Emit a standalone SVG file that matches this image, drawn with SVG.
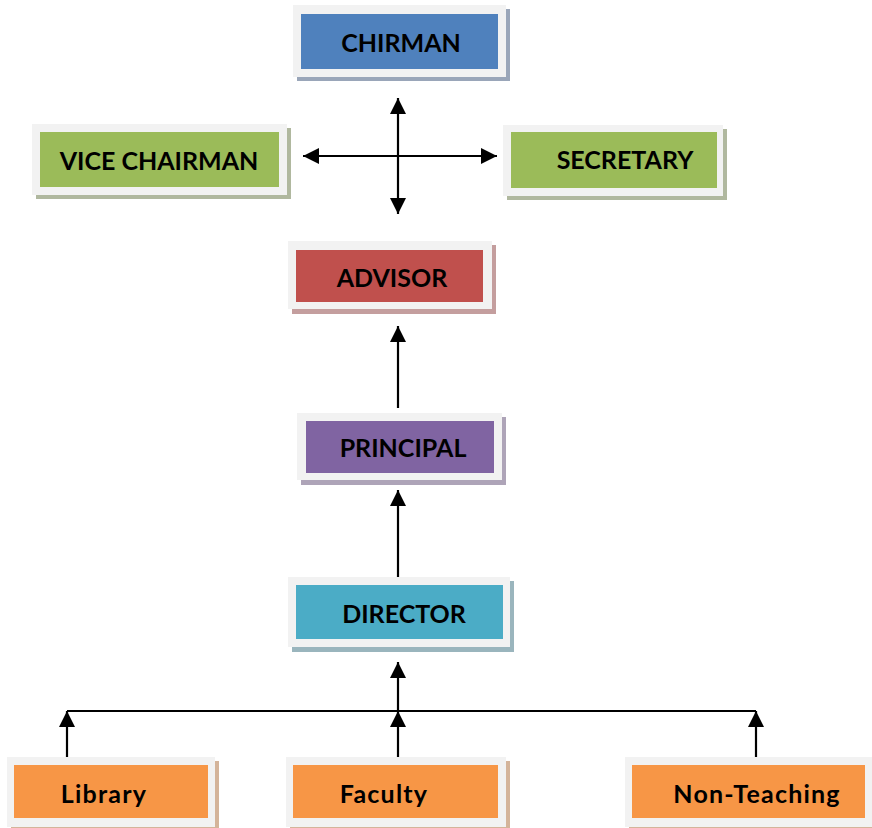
<svg xmlns="http://www.w3.org/2000/svg" width="872" height="828" viewBox="0 0 872 828">
<defs>
<marker id="ah" markerUnits="userSpaceOnUse" markerWidth="17" markerHeight="16" refX="16" refY="8" orient="auto-start-reverse" viewBox="0 0 17 16">
<path d="M0,0 L16,8 L0,16 z" fill="#000"/>
</marker>
<style>
.frame{fill:#f2f2f2;}
.lbl{font-family:Lato,"Open Sans","Liberation Sans",sans-serif;font-weight:bold;font-size:25px;fill:#000;text-anchor:middle;}
.low{letter-spacing:1.2px;}
.conn{stroke:#000;stroke-width:2.2;fill:none;}
</style>
</defs>
<rect width="872" height="828" fill="#fff"/>
<g id="chirman">
<rect x="297" y="9" width="213" height="72" fill="#9aa6b9"/>
<rect class="frame" x="293" y="5" width="213" height="72"/>
<rect x="301" y="14" width="197" height="55" fill="#4f81bd"/>
<text class="lbl" x="401" y="52">CHIRMAN</text>
</g>
<g id="vice-chairman">
<rect x="36" y="128" width="255" height="71" fill="#b0b89f"/>
<rect class="frame" x="32" y="124" width="255" height="71"/>
<rect x="40" y="132" width="239" height="55" fill="#9bbb59"/>
<text class="lbl" x="159" y="170">VICE CHAIRMAN</text>
</g>
<g id="secretary">
<rect x="507" y="129" width="220" height="71" fill="#b0b89f"/>
<rect class="frame" x="503" y="125" width="220" height="71"/>
<rect x="511" y="132" width="206" height="56" fill="#9bbb59"/>
<text class="lbl" x="625" y="169">SECRETARY</text>
</g>
<g id="advisor">
<rect x="292" y="245" width="204" height="69" fill="#c49e9e"/>
<rect class="frame" x="288" y="241" width="204" height="68"/>
<rect x="296" y="250" width="187" height="52" fill="#c0504d"/>
<text class="lbl" x="392" y="287">ADVISOR</text>
</g>
<g id="principal">
<rect x="301" y="417" width="205" height="68" fill="#aea4b8"/>
<rect class="frame" x="297" y="413" width="205" height="67"/>
<rect x="306" y="421" width="188" height="52" fill="#8064a2"/>
<text class="lbl" x="403" y="457">PRINCIPAL</text>
</g>
<g id="director">
<rect x="292" y="581" width="222" height="71" fill="#9ab5bd"/>
<rect class="frame" x="288" y="577" width="222" height="70"/>
<rect x="296" y="585" width="207" height="54" fill="#4bacc6"/>
<text class="lbl" x="404" y="623">DIRECTOR</text>
</g>
<g id="library">
<rect x="11" y="761" width="208" height="70" fill="#d4b49a"/>
<rect class="frame" x="7" y="757" width="208" height="70"/>
<rect x="14" y="765" width="194" height="53" fill="#f79646"/>
<text class="lbl low" x="104" y="803">Library</text>
</g>
<g id="faculty">
<rect x="290" y="761" width="220" height="70" fill="#d4b49a"/>
<rect class="frame" x="286" y="757" width="220" height="70"/>
<rect x="293" y="765" width="205" height="53" fill="#f79646"/>
<text class="lbl low" x="384" y="803">Faculty</text>
</g>
<g id="non-teaching">
<rect x="629" y="761" width="250" height="70" fill="#d4b49a"/>
<rect class="frame" x="625" y="757" width="250" height="70"/>
<rect x="632" y="765" width="233" height="53" fill="#f79646"/>
<text class="lbl low" x="757" y="803">Non-Teaching</text>
</g>
<g id="connectors">
<line class="conn" x1="398" y1="98" x2="398" y2="214" marker-start="url(#ah)" marker-end="url(#ah)"/>
<line class="conn" x1="303" y1="156" x2="497" y2="156" marker-start="url(#ah)" marker-end="url(#ah)"/>
<line class="conn" x1="398" y1="408" x2="398" y2="326" marker-end="url(#ah)"/>
<line class="conn" x1="398" y1="577" x2="398" y2="490" marker-end="url(#ah)"/>
<line class="conn" x1="67" y1="711" x2="756" y2="711"/>
<line class="conn" x1="67" y1="757" x2="67" y2="711" marker-end="url(#ah)"/>
<line class="conn" x1="398" y1="757" x2="398" y2="711" marker-end="url(#ah)"/>
<line class="conn" x1="756" y1="757" x2="756" y2="711" marker-end="url(#ah)"/>
<line class="conn" x1="398" y1="711" x2="398" y2="662" marker-end="url(#ah)"/>
</g>
</svg>
